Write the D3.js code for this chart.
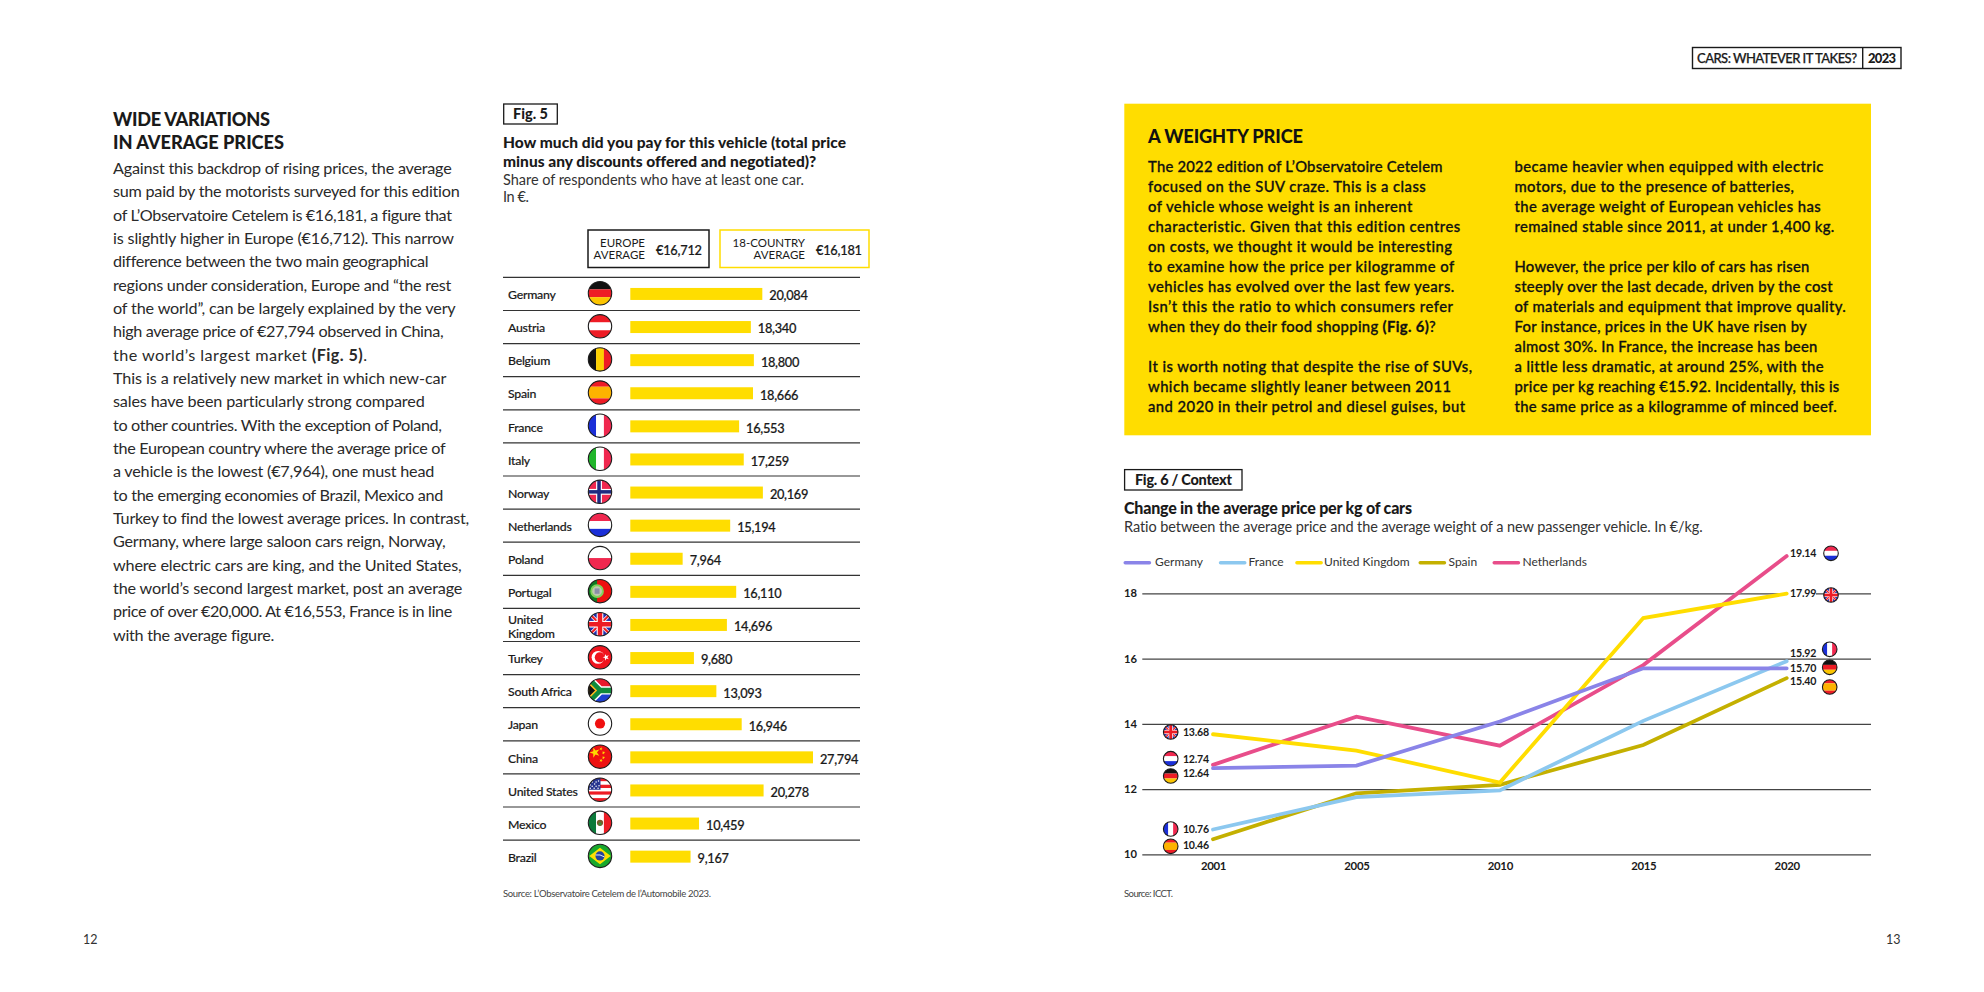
<!DOCTYPE html>
<html><head><meta charset="utf-8">
<script src="https://cdn.jsdelivr.net/npm/d3@7/dist/d3.min.js"></script>
<style>
html,body{margin:0;padding:0;background:#fff}
svg{display:block}
text{font-family:"Lato",sans-serif;fill:#1a1a1a;font-kerning:normal}
</style></head><body><svg id="c" width="1984" height="992"></svg>
<script>
// ---------- chart data ----------
const countries = ["Germany","Austria","Belgium","Spain","France","Italy","Norway","Netherlands","Poland","Portugal","United Kingdom","Turkey","South Africa","Japan","China","United States","Mexico","Brazil"];
const prices = [20084,18340,18800,18666,16553,17259,20169,15194,7964,16110,14696,9680,13093,16946,27794,20278,10459,9167];
const years = ["2001","2005","2010","2015","2020"];
const germany = [12.64,12.72,14.07,15.70,15.70];
const france = [10.76,11.75,11.96,14.09,15.92];
const uk = [13.68,13.18,12.20,17.24,17.99];
const spain = [10.46,11.87,12.13,13.35,15.40];
const netherlands = [12.74,14.22,13.33,15.80,19.14];
const yTicks = [10,12,14,16,18];
// ---------- page text ----------
const bodyLines = ["Against this backdrop of rising prices, the average","sum paid by the motorists surveyed for this edition","of L’Observatoire Cetelem is €16,181, a figure that","is slightly higher in Europe (€16,712). This narrow","difference between the two main geographical","regions under consideration, Europe and “the rest","of the world”, can be largely explained by the very","high average price of €27,794 observed in China,","the world’s largest market **(Fig. 5)**.","This is a relatively new market in which new-car","sales have been particularly strong compared","to other countries. With the exception of Poland,","the European country where the average price of","a vehicle is the lowest (€7,964), one must head","to the emerging economies of Brazil, Mexico and","Turkey to find the lowest average prices. In contrast,","Germany, where large saloon cars reign, Norway,","where electric cars are king, and the United States,","the world’s second largest market, post an average","price of over €20,000. At €16,553, France is in line","with the average figure."];
const bodyWidths = [338.7,347,338.7,341,315,338.7,342.7,330.7,254,333.7,312,329.3,332.7,321.3,330.3,356,332.7,348.7,349.3,339.3,161];
const boxCol1 = ["The 2022 edition of L’Observatoire Cetelem","focused on the SUV craze. This is a class","of vehicle whose weight is an inherent","characteristic. Given that this edition centres","on costs, we thought it would be interesting","to examine how the price per kilogramme of","vehicles has evolved over the last few years.","Isn’t this the ratio to which consumers refer","when they do their food shopping **(Fig. 6)**?","","It is worth noting that despite the rise of SUVs,","which became slightly leaner between 2011","and 2020 in their petrol and diesel guises, but"];
const boxCol1W = [294.7,277.7,264.3,312.7,304.3,306.3,306.3,305.3,287.7,0,324.3,303,317];
const boxCol2 = ["became heavier when equipped with electric","motors, due to the presence of batteries,","the average weight of European vehicles has","remained stable since 2011, at under 1,400 kg.","","However, the price per kilo of cars has risen","steeply over the last decade, driven by the cost","of materials and equipment that improve quality.","For instance, prices in the UK have risen by","almost 30%. In France, the increase has been","a little less dramatic, at around 25%, with the","price per kg reaching €15.92. Incidentally, this is","the same price as a kilogramme of minced beef."];
const boxCol2W = [308.8,278.8,306.2,319.8,0,294.8,318.2,331.2,292.2,302.8,308.8,324.8,322.2];

const svg = d3.select("#c");
const defs = svg.append("defs");
defs.append("clipPath").attr("id","fc").append("circle").attr("r",12);

// Text helper: draws a line, **bold** segments as tspans, tracks it to a target width.
function T(p,x,y,str,o={}){
  const t=p.append("text").attr("x",x).attr("y",y)
    .style("font-size",(o.s||14)+"px").style("font-weight",o.w||400)
    .style("fill",o.c||"#1a1a1a");
  if(o.a) t.attr("text-anchor",o.a);
  if(o.st) t.style("stroke",o.c||"#1a1a1a").style("stroke-width",o.st+"px");
  if(o.ls) t.style("letter-spacing",o.ls+"px");
  str.split("**").forEach((seg,i)=>{ if(!seg) return;
    const ts=t.append("tspan").text(seg); if(i%2) ts.style("font-weight",700);});
  if(o.fit){
    const n=t.text().length, L=t.node().getComputedTextLength();
    t.style("letter-spacing",((o.fit-L)/(n-1)).toFixed(3)+"px");
  }
  return t;
}

// ---------- flags ----------
const R="#ee1c25",PK="#f0284f",BL="#1b2fd8",NV="#1f2a80",YL="#fdd000",GN="#21b52b";
function rect(g,x,y,w,h,f){g.append("rect").attr("x",x).attr("y",y).attr("width",w).attr("height",h).attr("fill",f);}
function hbands(g,cols,ws){let y=-12;const tot=d3.sum(ws);cols.forEach((c,i)=>{const h=24*ws[i]/tot;rect(g,-12,y,24,h+.05,c);y+=h;});}
function vbands(g,cols){cols.forEach((c,i)=>rect(g,-12+8*i,-12,8.05,24,c));}
function star(g,x,y,s,f,rot){g.append("path").attr("d",d3.symbol(d3.symbolStar,s)()).attr("transform",`translate(${x},${y}) rotate(${rot||0})`).attr("fill",f);}
const flagDraw={
 "Germany":g=>hbands(g,["#111",R,"#fcc500"],[1,1,1]),
 "Austria":g=>hbands(g,[R,"#fff",R],[1,1,1]),
 "Belgium":g=>vbands(g,["#111",YL,R]),
 "Spain":g=>hbands(g,[R,"#fdb300",R],[1,2,1]),
 "France":g=>vbands(g,[BL,"#fff",PK]),
 "Italy":g=>vbands(g,[GN,"#fff",PK]),
 "Norway":g=>{rect(g,-12,-12,24,24,PK);rect(g,-12,-3,24,6,"#fff");rect(g,-4,-12,6,24,"#fff");rect(g,-12,-1.8,24,3.6,NV);rect(g,-2.8,-12,3.6,24,NV);},
 "Netherlands":g=>hbands(g,[PK,"#fff",BL],[1,1,1]),
 "Poland":g=>hbands(g,["#fff",PK],[1,1]),
 "Portugal":g=>{rect(g,-12,-12,24,24,"#ee0f0f");rect(g,-12,-12,9,24,"#0f7a22");
   g.append("circle").attr("cx",-3).attr("r",6).attr("fill","#bfc8b0").attr("stroke","#7fd35a").attr("stroke-width",2);
   rect(g,-5.5,-2.8,5,5.5,"#8a8fa8");},
 "United Kingdom":g=>{rect(g,-12,-12,24,24,"#1f30b0");
   [["-12,-12,12,12"],["-12,12,12,-12"]].forEach(a=>{const [x1,y1,x2,y2]=a[0].split(",");
     g.append("line").attr("x1",x1).attr("y1",y1).attr("x2",x2).attr("y2",y2).attr("stroke","#fff").attr("stroke-width",3.6);
     g.append("line").attr("x1",x1).attr("y1",y1).attr("x2",x2).attr("y2",y2).attr("stroke",R).attr("stroke-width",2.2);});
   rect(g,-12,-3.4,24,6.8,"#fff");rect(g,-3.4,-12,6.8,24,"#fff");rect(g,-12,-2.3,24,4.6,R);rect(g,-2.3,-12,4.6,24,R);},
 "Turkey":g=>{rect(g,-12,-12,24,24,"#f0141e");
   g.append("circle").attr("cx",-2).attr("r",6.6).attr("fill","#fff");
   g.append("circle").attr("cx",-.2).attr("r",5.2).attr("fill","#f0141e");
   star(g,6.2,0,14,"#fff",-90);},
 "South Africa":g=>{rect(g,-12,-12,24,12,"#e8192c");rect(g,-12,0,24,12,"#1d3fd0");
   g.append("path").attr("d","M-12,-12L0,0L12,0M-12,12L0,0").attr("fill","none").attr("stroke","#fff").attr("stroke-width",8.5);
   g.append("path").attr("d","M-12,-12L0,0L12,0M-12,12L0,0").attr("fill","none").attr("stroke","#0f8a3c").attr("stroke-width",5.5);
   g.append("path").attr("d","M-12,-8L-4,0L-12,8Z").attr("fill","#111").attr("stroke","#fdb81c").attr("stroke-width",1.6);},
 "Japan":g=>{rect(g,-12,-12,24,24,"#fff");g.append("circle").attr("r",5.2).attr("fill","#f01010");},
 "China":g=>{rect(g,-12,-12,24,24,"#ee1111");star(g,-5.2,-4.2,34,"#fedb00",-18);
   [[1,-8],[3.6,-4],[3.6,1],[1,4]].forEach(p=>star(g,p[0],p[1],4,"#fedb00",20));},
 "United States":g=>{const cs=[R,"#fff",R,"#fff",R,"#fff",R];hbands(g,cs,[1,1,1,1,1,1,1]);rect(g,-12,-12,12.5,12,"#27358f");
   [[-8,-8],[-4,-8],[-1.5,-9],[-8,-3.5],[-4,-3.5],[-1,-4],[-5.5,-6],[-10,-5],[-10,-1.5],[-6,-1.5],[-2,-1.5]].forEach(p=>g.append("circle").attr("cx",p[0]).attr("cy",p[1]).attr("r",.75).attr("fill","#fff"));},
 "Mexico":g=>{vbands(g,["#0b7a3a","#fff",R]);g.append("circle").attr("r",3.2).attr("fill","#7a5a2a");g.append("circle").attr("r",1.6).attr("cy",1).attr("fill","#3d8b3a");},
 "Brazil":g=>{rect(g,-12,-12,24,24,"#18a82c");g.append("path").attr("d","M-11,0L0,-8.5L11,0L0,8.5Z").attr("fill","#fde000");
   g.append("circle").attr("r",4.7).attr("fill","#2542a0");
   g.append("path").attr("d","M-4.6,-1Q0,-2 4.6,1").attr("fill","none").attr("stroke","#fff").attr("stroke-width",.9);}
};
function flag(p,name,cx,cy,r){
  const g=p.append("g").attr("transform",`translate(${cx},${cy}) scale(${r/12})`);
  const c=g.append("g").attr("clip-path","url(#fc)");
  flagDraw[name](c);
  g.append("circle").attr("r",12).attr("fill","none").attr("stroke","#1c1c1c").attr("stroke-width",1.1*12/r);
}

// ---------- header & page numbers ----------
const hdr=svg.append("g");
hdr.append("rect").attr("x",1692.5).attr("y",47.5).attr("width",208.5).attr("height",21).attr("fill","#fff").attr("stroke","#1a1a1a").attr("stroke-width",1.4);
hdr.append("line").attr("x1",1862.7).attr("x2",1862.7).attr("y1",47.5).attr("y2",68.5).attr("stroke","#1a1a1a").attr("stroke-width",1.4);
T(hdr,1697,63,"CARS: WHATEVER IT TAKES?",{s:13,w:500,st:.25,fit:160});
T(hdr,1868,63,"2023",{s:13,w:900,fit:28});
T(svg,83,944,"12",{s:12.5,c:"#333"});
T(svg,1886,944,"13",{s:12.5,c:"#333"});

// ---------- left text column ----------
const left=svg.append("g");
T(left,113,126,"WIDE VARIATIONS",{s:18.2,w:900,fit:157});
T(left,113,149,"IN AVERAGE PRICES",{s:18.2,w:900,fit:171});
bodyLines.forEach((l,i)=>T(left,113,174+i*23.33,l,{s:16.2,c:"#2a2a2a",fit:bodyWidths[i]}));

// ---------- Fig 5 ----------
const f5=svg.append("g");
f5.append("rect").attr("x",503.7).attr("y",104).attr("width",53.6).attr("height",20).attr("fill","none").attr("stroke","#1a1a1a").attr("stroke-width",1.3);
T(f5,530.5,119,"Fig. 5",{s:14.5,w:900,a:"middle"});
T(f5,503,148,"How much did you pay for this vehicle (total price",{s:15.5,w:900,fit:343});
T(f5,503,167,"minus any discounts offered and negotiated)?",{s:15.5,w:900,fit:313});
T(f5,503,185,"Share of respondents who have at least one car.",{s:14.5,c:"#333",fit:301});
T(f5,503,202,"In €.",{s:14.5,c:"#333",fit:26});
f5.append("rect").attr("x",588).attr("y",230).attr("width",121).attr("height",37.5).attr("fill","none").attr("stroke","#1a1a1a").attr("stroke-width",1.5);
f5.append("rect").attr("x",720).attr("y",230).attr("width",149).attr("height",37.5).attr("fill","none").attr("stroke","#ffdd00").attr("stroke-width",1.5);
T(f5,645,247,"EUROPE",{s:11.5,a:"end"});
T(f5,645,259,"AVERAGE",{s:11.5,a:"end"});
T(f5,656,254.5,"€16,712",{s:12.8,w:500,st:.2,fit:46});
T(f5,805,247,"18-COUNTRY",{s:11.5,a:"end"});
T(f5,805,259,"AVERAGE",{s:11.5,a:"end"});
T(f5,816,254.5,"€16,181",{s:12.8,w:500,st:.2,fit:46});

const rowY=d3.scaleBand().domain(countries).range([277.4,873.2]);
const barX=d3.scaleLinear().domain([0,30000]).range([630.3,827.5]);
f5.append("line").attr("x1",503).attr("x2",860).attr("y1",277.4).attr("y2",277.4).attr("stroke","#333").attr("stroke-width",1.4);
const rows=f5.selectAll("g.row").data(countries).join("g").attr("class","row");
const rowLab={s:12.3,w:500,st:.15,ls:-.25};
rows.each(function(c,i){
  const g=d3.select(this), m=rowY(c)+rowY.bandwidth()/2;
  if(i<countries.length-1) g.append("line").attr("x1",503).attr("x2",860).attr("y1",rowY(c)+rowY.bandwidth()).attr("y2",rowY(c)+rowY.bandwidth()).attr("stroke","#333").attr("stroke-width",1.2);
  if(c==="United Kingdom"){T(g,508,m-1,"United",rowLab);T(g,508,m+13.5,"Kingdom",rowLab);}
  else T(g,508,m+5.2,c,rowLab);
  flag(g,c,600,m-.7,11.7);
  g.append("rect").attr("x",barX(0)).attr("y",m-6).attr("width",barX(prices[i])-barX(0)).attr("height",12).attr("fill","#ffdd00");
  T(g,barX(prices[i])+7,m+6.4,d3.format(",")(prices[i]),{s:12.8,w:500,st:.2,ls:-.3});
});
T(f5,503,896.7,"Source: L’Observatoire Cetelem de l’Automobile 2023.",{s:9.5,c:"#444",fit:208});

// ---------- yellow box ----------
const box=svg.append("g");
box.append("rect").attr("x",1124.3).attr("y",103.7).attr("width",746.7).attr("height",331.6).attr("fill","#ffdd00");
T(box,1148,142.7,"A WEIGHTY PRICE",{s:18.2,w:900,c:"#111",fit:155});
boxCol1.forEach((l,i)=>{if(l)T(box,1148,172.3+i*20,l,{s:14.8,w:500,st:.3,c:"#111",fit:boxCol1W[i]});});
boxCol2.forEach((l,i)=>{if(l)T(box,1514.5,172.3+i*20,l,{s:14.8,w:500,st:.3,c:"#111",fit:boxCol2W[i]});});

// ---------- Fig 6 ----------
const f6=svg.append("g");
f6.append("rect").attr("x",1124.6).attr("y",469.6).attr("width",117.4).attr("height",20.4).attr("fill","none").attr("stroke","#1a1a1a").attr("stroke-width",1.3);
T(f6,1183.3,485,"Fig. 6 / Context",{s:14.5,w:900,a:"middle",fit:97});
T(f6,1124,514,"Change in the average price per kg of cars",{s:16,w:900,fit:288});
T(f6,1124,531.7,"Ratio between the average price and the average weight of a new passenger vehicle. In €/kg.",{s:14.5,c:"#333",fit:579});

const x6=d3.scalePoint().domain(years).range([1213,1786.7]);
const y6=d3.scaleLinear().domain([10,18]).range([854.3,593.3]);
const plot=f6.append("g");
const yAxis=d3.axisLeft(y6).tickValues(yTicks).tickSize(-(1871-1142.3)).tickPadding(6).tickFormat(d3.format("d"));
const ya=plot.append("g").attr("transform","translate(1142.3,0)").call(yAxis);
ya.select(".domain").remove();
ya.selectAll("line").attr("stroke","#444").attr("stroke-width",1.3);
ya.selectAll("text").attr("x",-18.3).attr("text-anchor","start").style("font-size","11.2px").style("font-weight",700);
const xAxis=d3.axisBottom(x6).tickSize(0).tickPadding(8);
const xa=plot.append("g").attr("transform","translate(0,854.3)").call(xAxis);
xa.select(".domain").remove();
xa.selectAll("text").style("font-size","11.4px").style("font-weight",700).style("letter-spacing","-.3px");
plot.append("rect").attr("x",1788).attr("y",590).attr("width",28).attr("height",8).attr("fill","#fff");

const seriesNames=["Germany","France","United Kingdom","Spain","Netherlands"];
const seriesCols=["#8a84e8","#8cc8ef","#ffdd00","#c4b000","#e84d8a"];
const seriesVals=[germany,france,uk,spain,netherlands];
const legendX=[1124,1219.3,1295.7,1419,1493];
const legendTx=[1155,1248.5,1324,1448.5,1522.5];
seriesNames.forEach((n,i)=>{
  f6.append("line").attr("x1",legendX[i]+1.2).attr("x2",legendX[i]+25.5).attr("y1",562.8).attr("y2",562.8)
    .attr("stroke",seriesCols[i]).attr("stroke-width",3.4).attr("stroke-linecap","round");
  T(f6,legendTx[i],565.6,n,{s:12,c:"#333"});
});
const line=d3.line().x((d,i)=>x6(years[i])).y(d=>y6(d));
[3,4,2,1,0].forEach(k=>{
  plot.append("path").attr("d",line(seriesVals[k])).attr("fill","none").attr("stroke",seriesCols[k])
    .attr("stroke-width",3.8).attr("stroke-linejoin","miter").attr("stroke-linecap","round");
});
const lo={s:10.6,w:700,ls:-.2};
// left labels
const leftLab=[["United Kingdom",uk,732,736],["Netherlands",netherlands,758.7,763.3],["Germany",germany,776,777.3],["France",france,829,833.3],["Spain",spain,846.3,849]];
leftLab.forEach(a=>{flag(plot,a[0],1170.7,a[2],7.3);T(plot,1209,a[3],a[1][0].toFixed(2),{...lo,a:"end"});});
// right labels
const rightLab=[["Netherlands",netherlands,553.3,557,1831],["United Kingdom",uk,595,597,1831],["France",france,649.3,657.3,1829.7],["Germany",germany,667.3,672,1829.7],["Spain",spain,687,685,1829.7]];
rightLab.forEach(a=>{flag(plot,a[0],a[4],a[2],7.3);T(plot,1790,a[3],a[1][4].toFixed(2),lo);});
T(f6,1124,896.7,"Source: ICCT.",{s:9.5,c:"#444",fit:49});
</script></body></html>
